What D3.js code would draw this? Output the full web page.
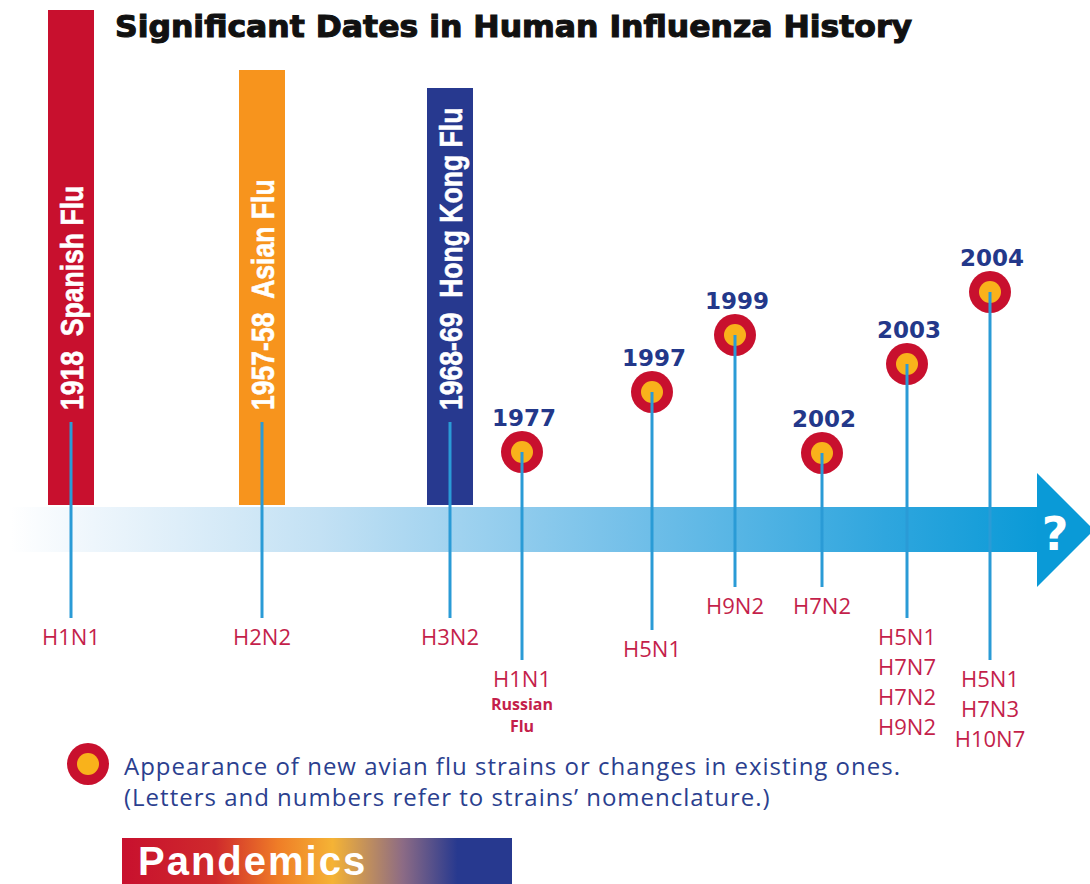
<!DOCTYPE html>
<html>

<head>
  <title>Significant Dates in Human Influenza History</title>
  <script src="https://cdn.jsdelivr.net/npm/d3@7"></script>
  <style>
    body {
      margin: 0;
      background: #fff;
    }
  </style>
</head>

<body>
  <main id="container"></main>

  <script>
    // chart data
    const titleText = "Significant Dates in Human Influenza History";

    const pandemicYears = ["1918", "1957-58", "1968-69"];
    const pandemicNames = ["Spanish Flu", "Asian Flu", "Hong Kong Flu"];
    const pandemicStrains = ["H1N1", "H2N2", "H3N2"];

    const avianYears = ["1977", "1997", "1999", "2002", "2003", "2004"];
    const avianStrains = [
      ["H1N1"],
      ["H5N1"],
      ["H9N2"],
      ["H7N2"],
      ["H5N1", "H7N7", "H7N2", "H9N2"],
      ["H5N1", "H7N3", "H10N7"],
    ];
    const avianNotes = [["Russian", "Flu"], [], [], [], [], []];

    const legendLines = [
      "Appearance of new avian flu strains or changes in existing ones.",
      "(Letters and numbers refer to strains\u2019 nomenclature.)",
    ];
    const pandemicLegend = "Pandemics";

    // layout (positions on the timeline, not data)
    const vizWidth = 1090;
    const vizHeight = 884;
    const slotX = [71, 262, 450, 522, 652, 735, 822, 907, 990];
    const barTops = [10, 70, 88];
    const markerLift = [452, 392, 335, 453, 364, 292];
    const avianStemEnds = [660, 630, 587, 587, 618, 660];
    const bandTop = 507, bandBottom = 552, barBottom = 505;
    const pandemicStemTop = 422, pandemicStemEnd = 618;

    const red = "#c8102e";
    const orange = "#f7941d";
    const navy = "#27398f";
    const yellow = "#f9b21b";
    const stemBlue = "#2a9bd6";
    const arrowBlue = "#0a9ad7";
    const strainRed = "#c41f4b";
    const textNavy = "#23388a";
    const barColors = [red, orange, navy];

    // scales
    const xScale = d3.scaleOrdinal()
      .domain([...pandemicYears, ...avianYears])
      .range(slotX);

    const barTopScale = d3.scaleOrdinal().domain(pandemicYears).range(barTops);
    const markerScale = d3.scaleOrdinal().domain(avianYears).range(markerLift);
    const stemEndScale = d3.scaleOrdinal().domain(avianYears).range(avianStemEnds);

    const svg = d3.select("#container")
      .append("svg")
      .attr("width", vizWidth)
      .attr("height", vizHeight)
      .style("display", "block");

    const defs = svg.append("defs");

    const bandGrad = defs.append("linearGradient")
      .attr("id", "bandGrad")
      .attr("gradientUnits", "userSpaceOnUse")
      .attr("x1", 10).attr("x2", 1040).attr("y1", 0).attr("y2", 0);
    bandGrad.selectAll("stop")
      .data([[0, "#ffffff"], [0.08, "#eef6fc"], [0.3, "#c3e1f4"], [0.6, "#74c0e9"], [0.85, "#2fa6de"], [1, arrowBlue]])
      .join("stop")
      .attr("offset", d => d[0])
      .attr("stop-color", d => d[1]);

    const pandGrad = defs.append("linearGradient")
      .attr("id", "pandGrad")
      .attr("x1", 0).attr("x2", 1).attr("y1", 0).attr("y2", 0);
    pandGrad.selectAll("stop")
      .data([[0, red], [0.24, "#cf2a2c"], [0.4, "#ef7d27"], [0.54, "#f5b335"], [0.72, "#8c6b85"], [0.86, navy], [1, navy]])
      .join("stop")
      .attr("offset", d => d[0])
      .attr("stop-color", d => d[1]);

    // title
    svg.append("text")
      .attr("x", 115)
      .attr("y", 37)
      .attr("textLength", 797)
      .attr("lengthAdjust", "spacingAndGlyphs")
      .style("font-family", "'DejaVu Sans', sans-serif")
      .style("font-weight", "bold")
      .style("font-size", "30px")
      .attr("fill", "#111")
      .attr("stroke", "#111")
      .attr("stroke-width", 1.1)
      .text(titleText);

    // pandemic bars
    const barWidth = 46;
    svg.append("g").selectAll("rect")
      .data(pandemicYears)
      .join("rect")
      .attr("x", d => xScale(d) - barWidth / 2)
      .attr("y", d => barTopScale(d))
      .attr("width", barWidth)
      .attr("height", d => barBottom - barTopScale(d))
      .attr("fill", (d, i) => barColors[i]);

    // condensed bold labels, squeezed along the text direction
    svg.append("g").selectAll("text")
      .data(pandemicYears)
      .join("text")
      .attr("transform", d => `translate(${xScale(d) + 12},${410}) rotate(-90) scale(0.83,1)`)
      .attr("fill", "#fff")
      .attr("stroke", "#fff")
      .attr("stroke-width", 0.6)
      .style("font-family", "'Liberation Sans', Arial, sans-serif")
      .style("font-weight", "bold")
      .style("font-size", "32px")
      .style("white-space", "pre")
      .text((d, i) => `${d}  ${pandemicNames[i]}`);

    // timeline arrow
    svg.append("rect")
      .attr("x", 10)
      .attr("y", bandTop)
      .attr("width", 1030)
      .attr("height", bandBottom - bandTop)
      .attr("fill", "url(#bandGrad)");

    svg.append("path")
      .attr("d", d3.line()([[1037, 473], [1094, 530], [1037, 587]]) + "Z")
      .attr("fill", arrowBlue);

    svg.append("text")
      .attr("x", 1055)
      .attr("y", 550)
      .attr("text-anchor", "middle")
      .attr("fill", "#fff")
      .style("font-family", "'DejaVu Sans', sans-serif")
      .style("font-weight", "bold")
      .style("font-size", "46px")
      .text("?");

    // avian markers
    const markers = svg.append("g").selectAll("g")
      .data(avianYears)
      .join("g")
      .attr("transform", d => `translate(${xScale(d)},${markerScale(d)})`);

    markers.append("circle").attr("r", 21).attr("fill", red);
    markers.append("circle").attr("r", 11).attr("fill", yellow);

    markers.append("text")
      .attr("x", 2)
      .attr("y", -26)
      .attr("text-anchor", "middle")
      .attr("fill", textNavy)
      .style("font-family", "'DejaVu Sans', sans-serif")
      .style("font-weight", "bold")
      .style("font-size", "23px")
      .text(d => d);

    // stems
    svg.append("g").selectAll("line")
      .data(pandemicYears)
      .join("line")
      .attr("x1", d => xScale(d)).attr("x2", d => xScale(d))
      .attr("y1", pandemicStemTop).attr("y2", pandemicStemEnd)
      .attr("stroke", stemBlue)
      .attr("stroke-width", 3);

    svg.append("g").selectAll("line")
      .data(avianYears)
      .join("line")
      .attr("x1", d => xScale(d)).attr("x2", d => xScale(d))
      .attr("y1", d => markerScale(d)).attr("y2", d => stemEndScale(d))
      .attr("stroke", stemBlue)
      .attr("stroke-width", 3);

    // strain labels
    const strainFont = "'Open Sans', 'Noto Sans', sans-serif";

    svg.append("g").selectAll("text")
      .data(pandemicYears)
      .join("text")
      .attr("x", d => xScale(d))
      .attr("y", pandemicStemEnd + 27)
      .attr("text-anchor", "middle")
      .attr("fill", strainRed)
      .style("font-family", strainFont)
      .style("font-size", "22px")
      .text((d, i) => pandemicStrains[i]);

    const avianLabels = svg.append("g").selectAll("g")
      .data(avianYears)
      .join("g")
      .attr("transform", d => `translate(${xScale(d)},${stemEndScale(d) + 27})`);

    avianLabels.selectAll("text.strain")
      .data((d, i) => avianStrains[i])
      .join("text")
      .attr("class", "strain")
      .attr("y", (d, i) => i * 30)
      .attr("text-anchor", "middle")
      .attr("fill", strainRed)
      .style("font-family", strainFont)
      .style("font-size", "22px")
      .text(d => d);

    // notes as one text block with stacked lines
    avianLabels.filter((d, i) => avianNotes[i].length > 0)
      .append("text")
      .attr("class", "note")
      .attr("text-anchor", "middle")
      .attr("fill", strainRed)
      .style("font-family", strainFont)
      .style("font-weight", "bold")
      .style("font-size", "16px")
      .selectAll("tspan")
      .data(d => avianNotes[avianYears.indexOf(d)])
      .join("tspan")
      .attr("x", 0)
      .attr("y", (d, i) => 23 + i * 22)
      .text(d => d);

    // legend
    svg.append("circle").attr("cx", 88).attr("cy", 764).attr("r", 21).attr("fill", red);
    svg.append("circle").attr("cx", 88).attr("cy", 764).attr("r", 11).attr("fill", yellow);

    svg.append("g").selectAll("text")
      .data(legendLines)
      .join("text")
      .attr("x", 124)
      .attr("y", (d, i) => 775 + i * 31)
      .attr("fill", "#2b3f8f")
      .style("font-family", strainFont)
      .style("font-size", "24px")
      .style("letter-spacing", "1px")
      .text(d => d);

    svg.append("rect")
      .attr("x", 122)
      .attr("y", 838)
      .attr("width", 390)
      .attr("height", 60)
      .attr("fill", "url(#pandGrad)");

    svg.append("text")
      .attr("x", 138)
      .attr("y", 875)
      .attr("fill", "#fff")
      .style("font-family", "'Liberation Sans', sans-serif")
      .style("font-weight", "bold")
      .style("font-size", "40px")
      .style("letter-spacing", "2px")
      .text(pandemicLegend);
  </script>
</body>

</html>
